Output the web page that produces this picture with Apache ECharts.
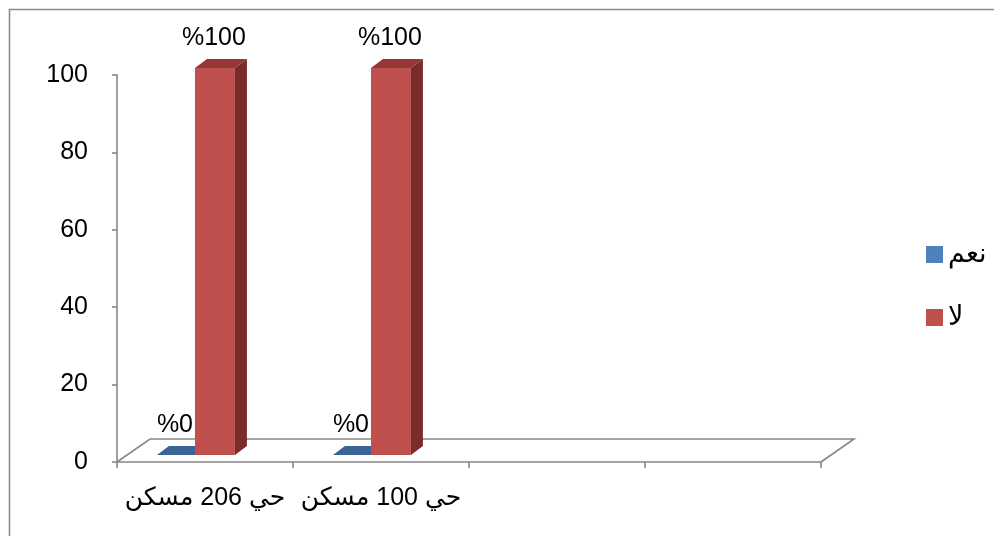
<!DOCTYPE html>
<html>
<head>
<meta charset="utf-8">
<script src="https://cdn.jsdelivr.net/npm/echarts@6/dist/echarts.min.js"></script>
<style>
  html, body { margin: 0; padding: 0; background: #fff; }
  #chart { width: 994px; height: 536px; }
</style>
</head>
<body>
<div id="chart"></div>
<script>
// Categories (two neighbourhoods plus two empty slots on the axis)
const categories = ['حي 206 مسكن', 'حي 100 مسكن', '', ''];
const seriesNames = ['نعم', 'لا'];
const yesValues = [0, 0];
const noValues = [100, 100];
const yAxisMin = 0, yAxisMax = 100, yAxisStep = 20;

const FONT = 'Arial, "Liberation Sans", "DejaVu Sans", sans-serif';
const AXIS_GRAY = '#878787';
const TEXT_SIZE = 25;

// 3D look: floor depth, bar front-plane offset and bar depth (pixels)
const FLOOR = [33, -23];
const FRONT = [0, -7];
const DEPTH = [12, -9];

// Bar slots inside a category band (fractions of band width from the centre)
const slots = [[-0.273, -0.057], [-0.057, 0.170]];
const palettes = [
  { front: '#4F81BD', top: '#3B6496', side: '#2F5077' },
  { front: '#C0504D', top: '#953735', side: '#782D2B' }
];

const rtl = s => (s ? '\u202B' + s + '\u202C' : '');

function barRenderer(slot, pal) {
  return function (params, api) {
    const cat = api.value(0);
    const v = api.value(1);
    const top = api.coord([cat, v]);
    const base = api.coord([cat, 0]);
    const bw = api.size([1, 0])[0];
    const x0 = base[0] + slot[0] * bw + FRONT[0];
    const x1 = base[0] + slot[1] * bw + FRONT[0];
    const yb = base[1] + FRONT[1];
    const yt = top[1] + FRONT[1];
    const dx = DEPTH[0], dy = DEPTH[1];
    const children = [];
    if (yb - yt > 0.5) {
      children.push({ type: 'polygon', shape: { points: [[x0, yt], [x1, yt], [x1, yb], [x0, yb]] }, style: { fill: pal.front } });
      children.push({ type: 'polygon', shape: { points: [[x1, yt], [x1 + dx, yt + dy], [x1 + dx, yb + dy], [x1, yb]] }, style: { fill: pal.side } });
    }
    children.push({ type: 'polygon', shape: { points: [[x0, yt], [x0 + dx, yt + dy], [x1 + dx, yt + dy], [x1, yt]] }, style: { fill: pal.top } });
    children.push({
      type: 'text',
      style: {
        x: (x0 + x1) / 2 - 1, y: yt - 30,
        text: '%' + v,
        fill: '#000', font: TEXT_SIZE + 'px ' + FONT,
        textAlign: 'center', textVerticalAlign: 'middle'
      }
    });
    return { type: 'group', children: children };
  };
}

function floorRenderer(params, api) {
  const cs = params.coordSys;
  const xl = cs.x, xr = cs.x + cs.width, yf = cs.y + cs.height;
  const [fx, fy] = FLOOR;
  return {
    type: 'polyline',
    shape: { points: [[xl, yf], [xl + fx, yf + fy], [xr + fx, yf + fy], [xr, yf]] },
    style: { stroke: AXIS_GRAY, lineWidth: 1.6, fill: null }
  };
}

const chart = echarts.init(document.getElementById('chart'));
chart.setOption({
  backgroundColor: '#fff',
  animation: false,
  textStyle: { fontFamily: FONT },
  graphic: [{
    type: 'rect', left: 7, top: 7, z: 100,
    shape: { width: 1000, height: 540 },
    style: { fill: null, stroke: '#8a8a8a', lineWidth: 1.6 }
  }],
  grid: { left: 117, right: 173, top: 75, bottom: 74, containLabel: false },
  legend: {
    data: seriesNames,
    orient: 'vertical',
    left: 921, top: 236,
    itemWidth: 17, itemHeight: 17, itemGap: 36,
    icon: 'rect',
    textStyle: { fontSize: 27, color: '#000', fontFamily: FONT }
  },
  xAxis: {
    type: 'category',
    data: categories,
    boundaryGap: true,
    axisLine: { lineStyle: { color: AXIS_GRAY, width: 1.6 } },
    axisTick: { show: true, length: 6, interval: 0, lineStyle: { color: AXIS_GRAY, width: 1.6 } },
    axisLabel: { interval: 0, margin: 24, fontSize: TEXT_SIZE, color: '#000', fontFamily: FONT, formatter: rtl },
    splitLine: { show: false }
  },
  yAxis: {
    type: 'value',
    min: yAxisMin, max: yAxisMax, interval: yAxisStep,
    axisLine: { show: true, lineStyle: { color: AXIS_GRAY, width: 1.6 } },
    axisTick: { show: true, length: 5, lineStyle: { color: AXIS_GRAY, width: 1.6 } },
    axisLabel: { margin: 29, fontSize: TEXT_SIZE, color: '#000', fontFamily: FONT },
    splitLine: { show: false }
  },
  series: [
    {
      type: 'custom', name: '__floor', silent: true, z: 1,
      data: [[0, 0]],
      renderItem: floorRenderer
    },
    {
      type: 'custom', name: seriesNames[0], z: 2,
      itemStyle: { color: palettes[0].front },
      data: yesValues.map((v, i) => [i, v]),
      encode: { x: 0, y: 1 },
      renderItem: barRenderer(slots[0], palettes[0])
    },
    {
      type: 'custom', name: seriesNames[1], z: 3,
      itemStyle: { color: palettes[1].front },
      data: noValues.map((v, i) => [i, v]),
      encode: { x: 0, y: 1 },
      renderItem: barRenderer(slots[1], palettes[1])
    }
  ]
});
</script>
</body>
</html>
